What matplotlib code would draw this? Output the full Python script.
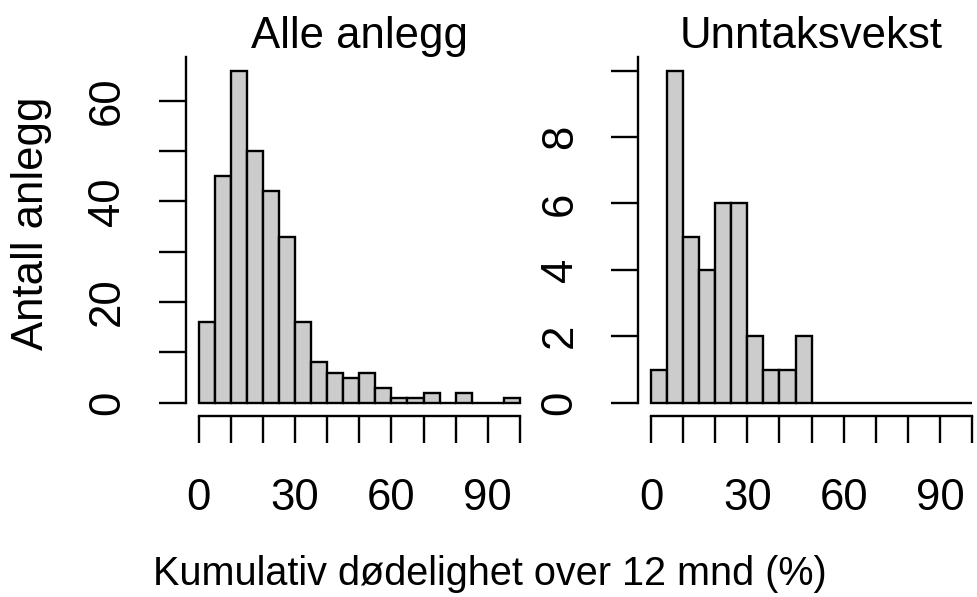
import numpy as np
import matplotlib
matplotlib.use("Agg")
from matplotlib import pyplot as plt

# bin edges (5 % wide) and counts
edges = np.arange(0, 105, 5)
alle = [16, 45, 66, 50, 42, 33, 16, 8, 6, 5, 6, 3, 1, 1, 2, 0, 2, 0, 0, 1]
unntak = [1, 10, 5, 4, 6, 6, 2, 1, 1, 2, 0, 0, 0, 0, 0, 0, 0, 0, 0, 0]

titles = ["Alle anlegg", "Unntaksvekst"]
xticks = np.arange(0, 110, 10)
xlabels = ["0", "", "", "30", "", "", "60", "", "", "90", ""]
yticks_alle = np.arange(0, 70, 10)
ylabels_alle = ["0", "", "20", "", "40", "", "60"]
yticks_unntak = np.arange(0, 12, 2)
ylabels_unntak = ["0", "2", "4", "6", "8", ""]

plt.rcParams["font.family"] = ["Liberation Sans", "DejaVu Sans"]
fs = 31.5
lw = 1.7

W, H = 978, 597
fig = plt.figure(figsize=(W / 100, H / 100), dpi=100)


def px_axes(x0, y0, x1, y1):
    return fig.add_axes([x0 / W, 1 - y1 / H, (x1 - x0) / W, (y1 - y0) / H])


def hist_panel(ax, counts, yticks, ylabels, title):
    ymax = max(counts)
    ax.bar(edges[:-1], counts, width=5, align="edge", color="#cccccc",
           edgecolor="black", linewidth=lw)
    ax.set_xlim(-4, 104)
    ax.set_ylim(-0.04 * ymax, 1.04 * ymax)
    for s in ["top", "right"]:
        ax.spines[s].set_visible(False)
    for s in ["left", "bottom"]:
        ax.spines[s].set_linewidth(lw)
    ax.spines["left"].set_bounds(0, 1.04 * ymax)
    ax.spines["bottom"].set_bounds(0, 100)
    ax.set_xticks(xticks)
    ax.set_xticklabels(xlabels)
    ax.set_yticks(yticks)
    ax.set_yticklabels(ylabels, rotation=90, va="center")
    ax.tick_params(direction="out", length=19.4, width=lw, labelsize=fs)
    ax.tick_params(axis="x", pad=25)
    ax.tick_params(axis="y", pad=22)
    ax.set_title(title, fontsize=fs, pad=7)
    ax.patch.set_visible(False)


ax1 = px_axes(185.7, 57.4, 532.8, 416.0)
hist_panel(ax1, alle, yticks_alle, ylabels_alle, titles[0])
ax2 = px_axes(638.2, 57.4, 985.0, 416.0)
hist_panel(ax2, unntak, yticks_unntak, ylabels_unntak, titles[1])

fig.text(490 / W, 1 - 574 / H, "Kumulativ dødelighet over 12 mnd (%)",
         fontsize=28.5, ha="center", va="center")
fig.text(32 / W, 1 - 223 / H, "Antall anlegg", fontsize=fs, rotation=90,
         ha="center", va="center")

fig.savefig("out.png", dpi=100)
